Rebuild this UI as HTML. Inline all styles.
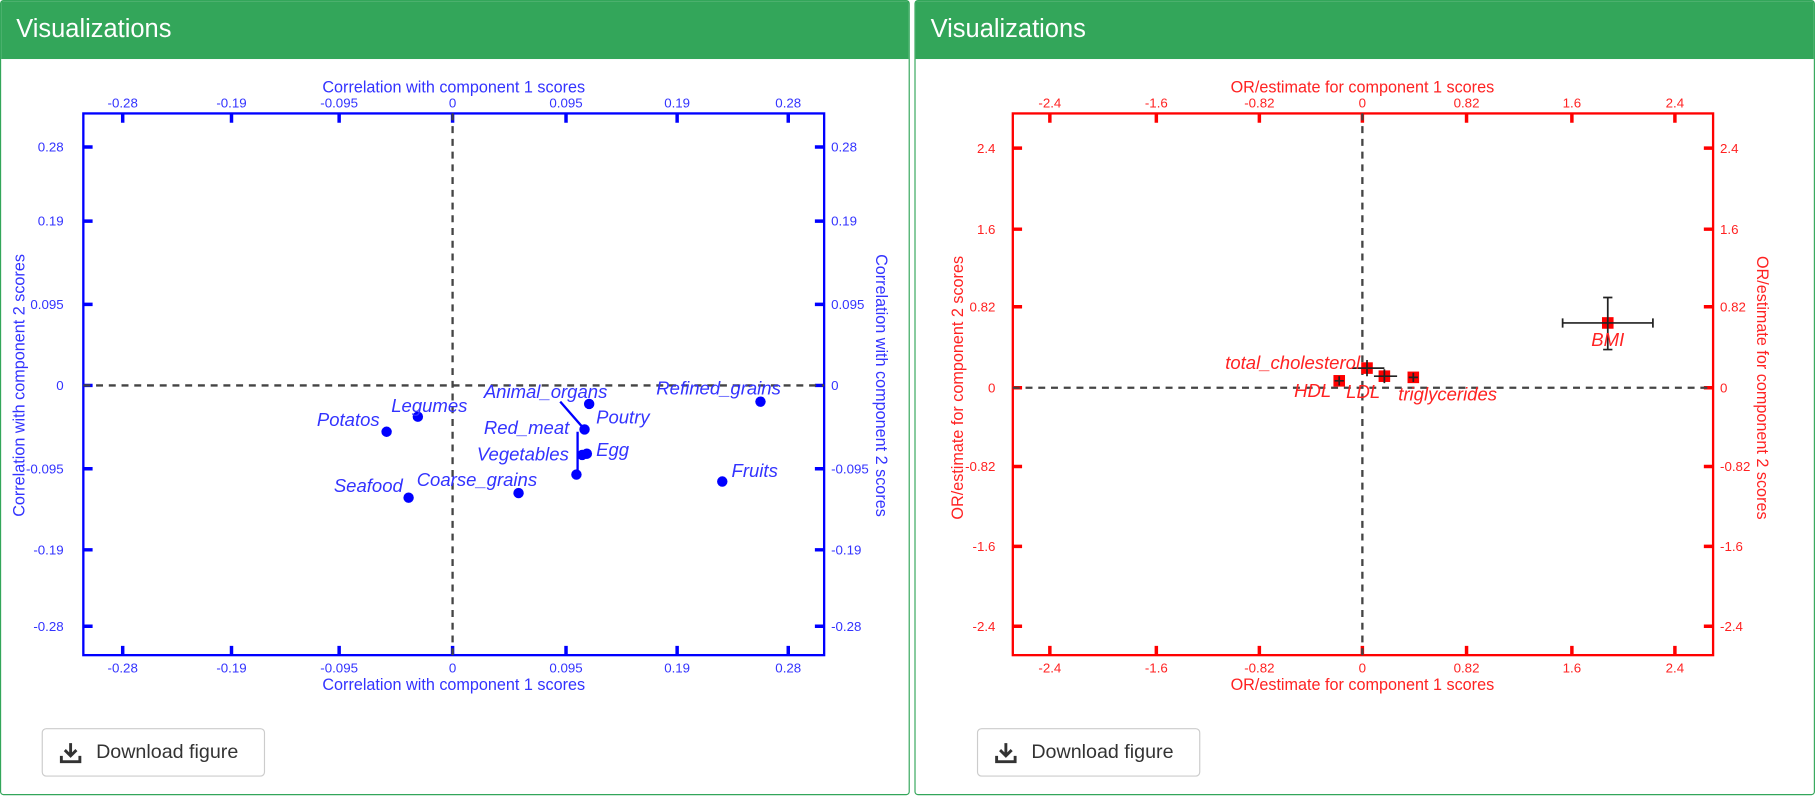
<!DOCTYPE html>
<html><head><meta charset="utf-8"><style>
html,body{margin:0;padding:0;background:#fff;width:1815px;height:799px;overflow:hidden;font-family:"Liberation Sans",sans-serif}
#w{position:absolute;left:0;top:0;width:1568px;height:690px;transform:scale(1.1575);transform-origin:0 0}
.p{position:absolute;top:0;height:687px;border:1px solid #33a65a;border-radius:3px;background:#fff;box-sizing:border-box}
.h{height:50px;background:#33a65a;color:#fff;font-size:22px;line-height:48px;padding-left:13px}
.b{position:absolute;top:628px;width:193px;height:42px;border:1px solid #ccc;border-radius:4px;box-sizing:border-box;font-size:17px;line-height:40px;color:#333;padding-left:46px}
svg{position:absolute;left:0;top:0}
</style></head><body><div id="w">
<div class="p" style="left:0;width:786px"><div class="h">Visualizations</div>
<div class="b" style="left:35px"><svg width="40" height="40" style="left:14px;top:10px"><path d="M10 2v11M5 8l5 5 5-5M2 13v5h16v-5" stroke="#333" stroke-width="2.5" fill="none"/></svg>Download figure</div></div>
<div class="p" style="left:790px;width:778px"><div class="h">Visualizations</div>
<div class="b" style="left:53px"><svg width="40" height="40" style="left:14px;top:10px"><path d="M10 2v11M5 8l5 5 5-5M2 13v5h16v-5" stroke="#333" stroke-width="2.5" fill="none"/></svg>Download figure</div></div>
<svg width="1568" height="690" font-family="Liberation Sans, sans-serif">
<g stroke="#0000ff" stroke-width="2" fill="none">
<rect x="72" y="98" width="640" height="468"/>
<path stroke-width="3" d="M106 98v8M200 98v8M293 98v8M391 98v8M489 98v8M585 98v8M681 98v8M106 566v-8M200 566v-8M293 566v-8M391 566v-8M489 566v-8M585 566v-8M681 566v-8M72 127h8M72 191h8M72 263h8M72 333h8M72 405h8M72 475h8M72 541h8M712 127h-8M712 191h-8M712 263h-8M712 333h-8M712 405h-8M712 475h-8M712 541h-8"/>
</g>
<g stroke="#444" stroke-width="2" stroke-dasharray="6,5"><path d="M72 333H712M391 98V566"/></g>
<g fill="#3333ff" font-size="11.5" text-anchor="middle">
<text x="106" y="93">-0.28</text><text x="200" y="93">-0.19</text><text x="293" y="93">-0.095</text><text x="391" y="93">0</text><text x="489" y="93">0.095</text><text x="585" y="93">0.19</text><text x="681" y="93">0.28</text>
<text x="106" y="581">-0.28</text><text x="200" y="581">-0.19</text><text x="293" y="581">-0.095</text><text x="391" y="581">0</text><text x="489" y="581">0.095</text><text x="585" y="581">0.19</text><text x="681" y="581">0.28</text>
<text x="392" y="80" font-size="14">Correlation with component 1 scores</text>
<text x="392" y="596" font-size="14">Correlation with component 1 scores</text>
<text x="21" y="333" font-size="14" transform="rotate(-90 21 333)">Correlation with component 2 scores</text>
<text x="757" y="333" font-size="14" transform="rotate(90 757 333)">Correlation with component 2 scores</text>
</g>
<g fill="#3333ff" font-size="11.5" text-anchor="end"><text x="55" y="131">0.28</text><text x="55" y="195">0.19</text><text x="55" y="267">0.095</text><text x="55" y="337">0</text><text x="55" y="409">-0.095</text><text x="55" y="479">-0.19</text><text x="55" y="545">-0.28</text></g>
<g fill="#3333ff" font-size="11.5"><text x="718" y="131">0.28</text><text x="718" y="195">0.19</text><text x="718" y="267">0.095</text><text x="718" y="337">0</text><text x="718" y="409">-0.095</text><text x="718" y="479">-0.19</text><text x="718" y="545">-0.28</text></g>
<g stroke="#0000ff" stroke-width="2"><path d="M484 347L505 371M499 373V410"/></g>
<g fill="#0000ff"><circle cx="334" cy="373" r="4.5"/><circle cx="361" cy="360" r="4.5"/><circle cx="353" cy="430" r="4.5"/><circle cx="448" cy="426" r="4.5"/><circle cx="509" cy="349" r="4.5"/><circle cx="505" cy="371" r="4.5"/><circle cx="507" cy="392" r="4.5"/><circle cx="503" cy="393" r="4.5"/><circle cx="498" cy="410" r="4.5"/><circle cx="657" cy="347" r="4.5"/><circle cx="624" cy="416" r="4.5"/></g>
<g fill="#3333ff" font-size="16" font-style="italic">
<text x="328" y="368" text-anchor="end">Potatos</text><text x="338" y="356">Legumes</text><text x="348" y="425" text-anchor="end">Seafood</text><text x="360" y="420">Coarse_grains</text><text x="418" y="344">Animal_organs</text><text x="515" y="366">Poutry</text><text x="418" y="375">Red_meat</text><text x="515" y="394">Egg</text><text x="412" y="398">Vegetables</text><text x="567" y="341">Refined_grains</text><text x="632" y="412">Fruits</text>
</g>
<g stroke="#ff0000" stroke-width="2" fill="none">
<rect x="875" y="98" width="605" height="468"/>
<path stroke-width="3" d="M907 98v8M999 98v8M1088 98v8M1177 98v8M1267 98v8M1358 98v8M1447 98v8M907 566v-8M999 566v-8M1088 566v-8M1177 566v-8M1267 566v-8M1358 566v-8M1447 566v-8M875 128h8M875 198h8M875 265h8M875 335h8M875 403h8M875 472h8M875 541h8M1480 128h-8M1480 198h-8M1480 265h-8M1480 335h-8M1480 403h-8M1480 472h-8M1480 541h-8"/>
</g>
<g stroke="#444" stroke-width="2" stroke-dasharray="6,5"><path d="M875 335H1480M1177 98V566"/></g>
<g fill="#ff2222" font-size="11.5" text-anchor="middle">
<text x="907" y="93">-2.4</text><text x="999" y="93">-1.6</text><text x="1088" y="93">-0.82</text><text x="1177" y="93">0</text><text x="1267" y="93">0.82</text><text x="1358" y="93">1.6</text><text x="1447" y="93">2.4</text>
<text x="907" y="581">-2.4</text><text x="999" y="581">-1.6</text><text x="1088" y="581">-0.82</text><text x="1177" y="581">0</text><text x="1267" y="581">0.82</text><text x="1358" y="581">1.6</text><text x="1447" y="581">2.4</text>
<text x="1177" y="80" font-size="14">OR/estimate for component 1 scores</text>
<text x="1177" y="596" font-size="14">OR/estimate for component 1 scores</text>
<text x="832" y="335" font-size="14" transform="rotate(-90 832 335)">OR/estimate for component 2 scores</text>
<text x="1518" y="335" font-size="14" transform="rotate(90 1518 335)">OR/estimate for component 2 scores</text>
</g>
<g fill="#ff2222" font-size="11.5" text-anchor="end"><text x="860" y="132">2.4</text><text x="860" y="202">1.6</text><text x="860" y="269">0.82</text><text x="860" y="339">0</text><text x="860" y="407">-0.82</text><text x="860" y="476">-1.6</text><text x="860" y="545">-2.4</text></g>
<g fill="#ff2222" font-size="11.5"><text x="1486" y="132">2.4</text><text x="1486" y="202">1.6</text><text x="1486" y="269">0.82</text><text x="1486" y="339">0</text><text x="1486" y="407">-0.82</text><text x="1486" y="476">-1.6</text><text x="1486" y="545">-2.4</text></g>
<g fill="#ff0000"><rect x="1384" y="274" width="10" height="10"/><rect x="1176" y="313" width="10" height="10"/><rect x="1152" y="324" width="10" height="10"/><rect x="1191" y="320" width="10" height="10"/><rect x="1216" y="321" width="10" height="10"/></g>
<g stroke="#222" stroke-width="1.5"><path d="M1350 279H1428M1389 257V302M1350 275v8M1428 275v8M1385 257h8M1385 302h8M1168 318H1196M1181 311V325M1187 325H1207M1196 319V331M1217 326H1225M1221 322V330M1153 329H1161M1157 325V333"/></g>
<g fill="#ff2222" font-size="16" font-style="italic">
<text x="1389" y="299" text-anchor="middle">BMI</text><text x="1175" y="319" text-anchor="end">total_cholesterol</text><text x="1150" y="343" text-anchor="end">HDL</text><text x="1163" y="344">LDL</text><text x="1208" y="346">triglycerides</text>
</g>
</svg>
</div></body></html>
